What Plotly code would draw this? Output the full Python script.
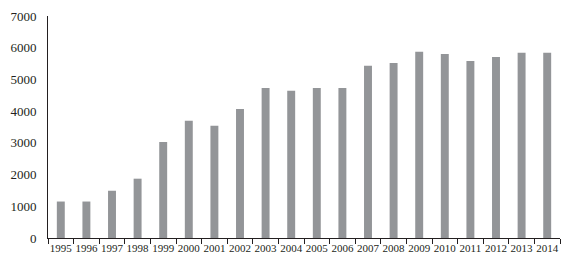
import plotly.graph_objects as go

years = [str(y) for y in range(1995, 2015)]
values = [1150, 1150, 1490, 1870, 3030, 3700, 3540, 4070, 4730, 4640,
          4730, 4730, 5430, 5520, 5870, 5800, 5580, 5710, 5840, 5840]
y_ticks = [0, 1000, 2000, 3000, 4000, 5000, 6000, 7000]

fig = go.Figure(go.Bar(x=years, y=values, marker_color="#939598",
                       marker_line_width=0))
fig.update_layout(
    width=572, height=264,
    margin=dict(l=40, r=20, t=8, b=34),
    paper_bgcolor="white", plot_bgcolor="white",
    bargap=0.69, showlegend=False,
    font=dict(family="Liberation Serif", color="#231f20"),
)
fig.update_xaxes(
    type="category", showline=True, linecolor="#231f20", linewidth=1,
    ticks="outside", tickson="boundaries", ticklen=5, tickcolor="#231f20",
    tickangle=0, tickfont=dict(size=11), showgrid=False, zeroline=False,
    automargin=False,
)
fig.update_yaxes(
    range=[0, 7000], tickvals=y_ticks, showline=True, linecolor="#231f20",
    linewidth=1, ticks="outside", ticklen=8, tickcolor="rgba(0,0,0,0)",
    tickfont=dict(size=13), showgrid=False, zeroline=False,
    automargin=False,
)
fig.write_html("out.html")
